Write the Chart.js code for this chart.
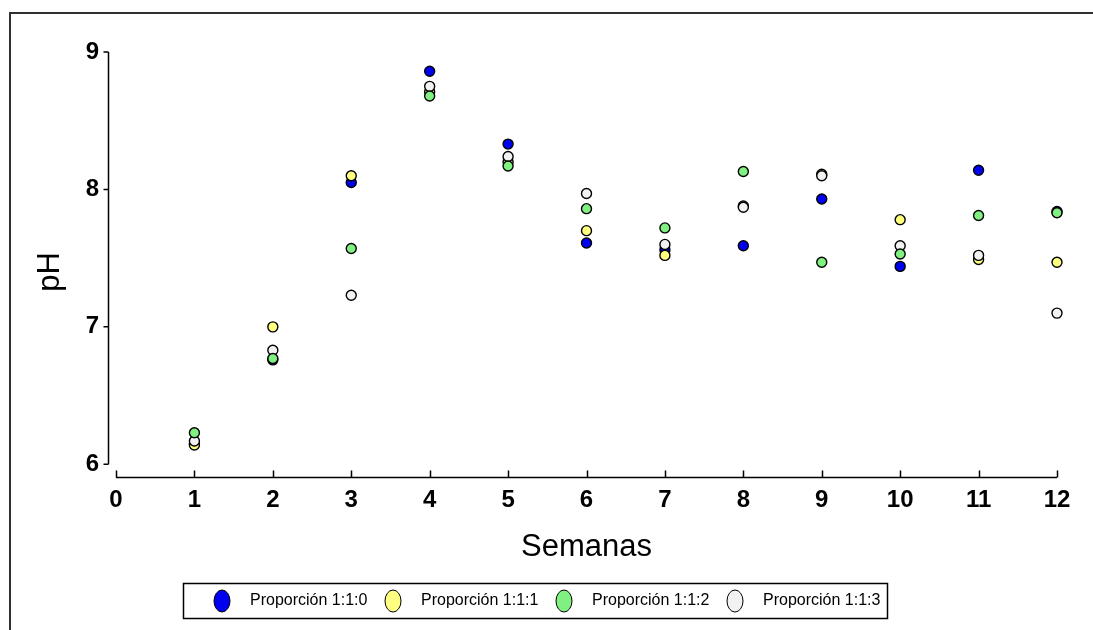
<!DOCTYPE html>
<html>
<head>
<meta charset="utf-8">
<script src="https://cdn.jsdelivr.net/npm/chart.js@4.4.1/dist/chart.umd.min.js"></script>
<style>
  html, body { margin: 0; padding: 0; background: #ffffff; }
  #wrap { width: 1093px; height: 630px; }
</style>
</head>
<body>
<div id="wrap"><canvas id="c" width="1093" height="630"></canvas></div>
<script>
// ---- data ----
const weeks = [1, 2, 3, 4, 5, 6, 7, 8, 9, 10, 11, 12];
const seriesLabels = ['Proporción 1:1:0', 'Proporción 1:1:1', 'Proporción 1:1:2', 'Proporción 1:1:3'];
const p110 = [6.15, 6.76, 8.05, 8.86, 8.33, 7.61, 7.56, 7.59, 7.93, 7.44, 8.14, 7.84];
const p111 = [6.14, 7.00, 8.10, 8.71, 8.20, 7.70, 7.52, 7.88, 8.11, 7.78, 7.49, 7.47];
const p112 = [6.23, 6.77, 7.57, 8.68, 8.17, 7.86, 7.72, 8.13, 7.47, 7.53, 7.81, 7.83];
const p113 = [6.17, 6.83, 7.23, 8.75, 8.24, 7.97, 7.60, 7.87, 8.10, 7.59, 7.52, 7.10];
const xTickValues = [0, 1, 2, 3, 4, 5, 6, 7, 8, 9, 10, 11, 12];
const yTickValues = [6, 7, 8, 9];
const xTitle = 'Semanas';
const yTitle = 'pH';

const colors = ['#0000f0', '#ffff80', '#80f080', '#f2f2f2'];
const seriesValues = [p110, p111, p112, p113];
const drawOrder = [4, 3, 1, 2];

const narrow = "'Liberation Sans Narrow', 'Liberation Sans', Arial, sans-serif";
const sans = "'Liberation Sans', Arial, sans-serif";

const datasets = seriesValues.map((vals, i) => ({
  label: seriesLabels[i],
  data: weeks.map((w, j) => ({ x: w, y: vals[j] })),
  backgroundColor: colors[i],
  borderColor: '#000000',
  borderWidth: 1.4,
  pointRadius: 5,
  pointHoverRadius: 5,
  order: drawOrder[i],
  clip: false
}));

const decorPlugin = {
  id: 'decor',
  beforeDraw(chart) {
    const ctx = chart.ctx;
    ctx.save();
    ctx.fillStyle = '#ffffff';
    ctx.fillRect(0, 0, chart.width, chart.height);
    ctx.restore();
  },
  afterDraw(chart) {
    const ctx = chart.ctx;
    const xs = chart.scales.x, ys = chart.scales.y;
    const area = chart.chartArea;
    ctx.save();
    // outer frame (left + top)
    ctx.strokeStyle = '#303030';
    ctx.lineWidth = 2;
    ctx.beginPath();
    ctx.moveTo(10, 630);
    ctx.lineTo(10, 13);
    ctx.lineTo(1093, 13);
    ctx.stroke();

    // y axis (offset left of plot area)
    ctx.strokeStyle = '#000000';
    ctx.lineWidth = 1.5;
    const ax = Math.round(area.left - 8.5) + 0.5;
    ctx.beginPath();
    ctx.moveTo(ax, ys.getPixelForValue(yTickValues[yTickValues.length - 1]));
    ctx.lineTo(ax, ys.getPixelForValue(yTickValues[0]));
    yTickValues.forEach(v => {
      const py = ys.getPixelForValue(v);
      ctx.moveTo(ax - 5, py);
      ctx.lineTo(ax, py);
    });
    ctx.stroke();

    // x axis (offset below plot area), ticks pointing up
    const ay = Math.round(area.bottom + 12.7) + 0.5;
    ctx.beginPath();
    ctx.moveTo(xs.getPixelForValue(xTickValues[0]), ay);
    ctx.lineTo(xs.getPixelForValue(xTickValues[xTickValues.length - 1]), ay);
    xTickValues.forEach(v => {
      const px = Math.round(xs.getPixelForValue(v)) + 0.5;
      ctx.moveTo(px, ay);
      ctx.lineTo(px, ay - 7);
    });
    ctx.stroke();

    // y title
    ctx.fillStyle = '#000000';
    ctx.font = '31px ' + sans;
    ctx.textAlign = 'center';
    ctx.textBaseline = 'middle';
    ctx.translate(50, 272);
    ctx.rotate(-Math.PI / 2);
    ctx.fillText(yTitle, 0, 0);
    ctx.setTransform(1, 0, 0, 1, 0, 0);

    // legend box
    const lx = 183, ly = 583, lw = 704, lh = 35;
    ctx.lineWidth = 1.5;
    ctx.strokeStyle = '#000000';
    ctx.strokeRect(lx + 0.5, ly + 0.5, lw, lh);
    const cy = ly + lh / 2 + 0.5;
    chart.data.datasets.forEach((ds, i) => {
      const mx = 222 + i * 171;
      ctx.beginPath();
      ctx.ellipse(mx, cy, 8, 11, 0, 0, Math.PI * 2);
      ctx.fillStyle = ds.backgroundColor;
      ctx.fill();
      ctx.lineWidth = 1;
      ctx.strokeStyle = '#000000';
      ctx.stroke();
      ctx.fillStyle = '#000000';
      ctx.font = '16px ' + narrow;
      ctx.textAlign = 'left';
      ctx.textBaseline = 'middle';
      ctx.fillText(ds.label, mx + 28, cy);
    });
    ctx.restore();
  }
};

new Chart(document.getElementById('c'), {
  type: 'scatter',
  data: { datasets },
  options: {
    responsive: false,
    animation: false,
    events: [],
    layout: { padding: { left: 10, right: 36, top: 52, bottom: 60 } },
    plugins: {
      legend: { display: false },
      tooltip: { enabled: false },
      title: { display: false }
    },
    scales: {
      x: {
        type: 'linear',
        min: 0, max: 12,
        afterBuildTicks(scale) { scale.ticks = xTickValues.map(v => ({ value: v })); },
        afterFit(scale) { scale.height = 105.7; },
        grid: { display: false, drawTicks: false },
        border: { display: false },
        ticks: {
          color: '#000000',
          padding: 22,
          maxRotation: 0,
          autoSkip: false,
          font: { family: narrow, size: 24, weight: 'bold' }
        },
        title: {
          display: true,
          text: xTitle,
          color: '#000000',
          font: { family: sans, size: 31 },
          padding: { top: 0, bottom: 4 }
        }
      },
      y: {
        type: 'linear',
        min: 6, max: 9,
        afterBuildTicks(scale) { scale.ticks = yTickValues.map(v => ({ value: v })); },
        afterFit(scale) { scale.width = 106; },
        grid: { display: false, drawTicks: false },
        border: { display: false },
        ticks: {
          color: '#000000',
          padding: 17,
          autoSkip: false,
          font: { family: narrow, size: 24, weight: 'bold' }
        }
      }
    }
  },
  plugins: [decorPlugin]
});
</script>
</body>
</html>
